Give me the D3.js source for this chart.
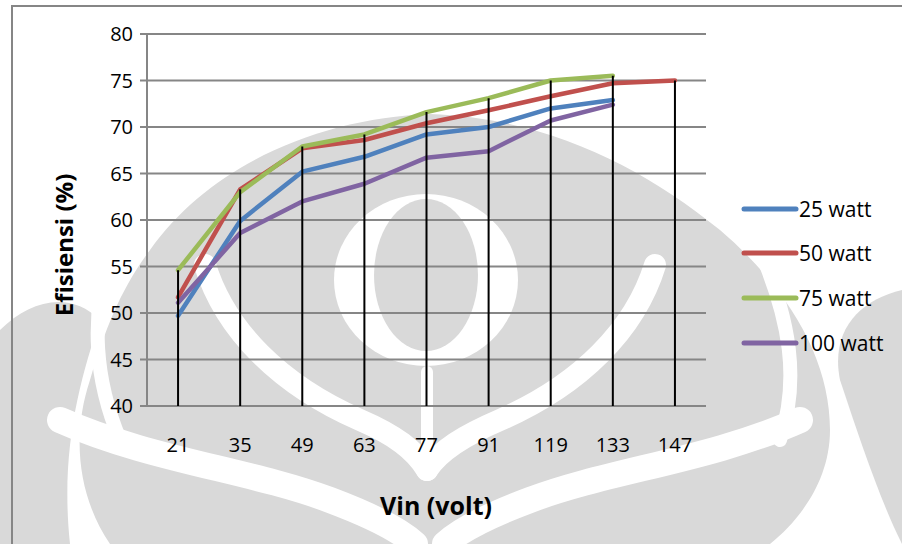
<!DOCTYPE html>
<html>
<head>
<meta charset="utf-8">
<script src="https://cdn.jsdelivr.net/npm/d3@7"></script>
<style>
  html, body { margin: 0; padding: 0; background: #fff; }
  svg { display: block; }
  text { font-family: "Open Sans", "Noto Sans", sans-serif; fill: #000; }
</style>
</head>
<body>
<svg id="chart" width="902" height="544"></svg>
<script>
// Input voltage categories (volt) and efficiency per load (%)
const categories = ["21", "35", "49", "63", "77", "91", "119", "133", "147"];
const seriesNames = ["25 watt", "50 watt", "75 watt", "100 watt"];
const seriesColors = ["#4F81BD", "#C0504D", "#9BBB59", "#8064A2"];
const watt25  = [49.7, 59.9, 65.2, 66.8, 69.2, 70.0, 72.0, 72.9, null];
const watt50  = [51.7, 63.3, 67.7, 68.6, 70.4, 71.8, 73.3, 74.7, 75.0];
const watt75  = [54.6, 63.0, 67.9, 69.2, 71.6, 73.1, 75.0, 75.5, null];
const watt100 = [51.1, 58.6, 62.0, 63.9, 66.7, 67.4, 70.7, 72.4, null];
const yTicks = [40, 45, 50, 55, 60, 65, 70, 75, 80];

const seriesValues = [watt25, watt50, watt75, watt100];
const series = seriesNames.map((name, i) => ({
  name, color: seriesColors[i],
  points: categories.map((c, j) => ({ cat: c, v: seriesValues[i][j] }))
}));

const svg = d3.select("#chart");
const W = 902, H = 544;
const plot = { left: 147, right: 706, top: 34, bottom: 406 };

const x = d3.scaleBand().domain(categories).range([plot.left, plot.right]).padding(0);
const y = d3.scaleLinear().domain([40, 80]).range([plot.bottom, plot.top]);
const cx = c => x(c) + x.bandwidth() / 2;

// Background emblem in light grey behind the plot
const wm = svg.append("g").attr("class", "emblem");
const G = "#d9d9d9";
wm.append("path").attr("fill", G).attr("d",
  "M150,250 C210,165 320,118 430,114 C545,118 640,165 720,230 C790,290 830,360 830,430 " +
  "C830,480 800,520 770,544 L110,544 C80,500 70,440 90,380 C105,330 120,290 150,250 Z");
wm.append("path").attr("fill", G).attr("d",
  "M0,330 C30,300 70,290 100,320 C80,380 60,450 70,544 L0,544 Z");
wm.append("path").attr("fill", G).attr("d",
  "M902,290 C860,300 830,330 840,380 C860,440 880,500 902,544 Z");
// white crescents of the central ring
wm.append("ellipse").attr("fill", "#fff").attr("cx", 426).attr("cy", 280).attr("rx", 92).attr("ry", 86);
wm.append("ellipse").attr("fill", G).attr("cx", 426).attr("cy", 275).attr("rx", 52).attr("ry", 76);
// white sweeping bands
const band = (d, w) => wm.append("path").attr("d", d).attr("fill", "none")
  .attr("stroke", "#fff").attr("stroke-width", w).attr("stroke-linecap", "round");
band("M205,265 C225,330 280,385 360,420 C395,435 415,450 427,470", 22);
band("M655,265 C635,330 580,385 500,420 C465,435 440,450 427,470", 22);
band("M427,372 L427,470", 12);
band("M60,420 C150,460 250,470 330,500 C370,515 400,530 415,544", 26);
band("M800,420 C710,460 610,470 530,500 C490,515 460,530 445,544", 26);
band("M110,250 C90,320 95,380 120,440", 14);
band("M760,250 C790,320 800,380 780,440", 14);

// Outer frame
svg.append("path").attr("d", `M12,${H} L12,6 L${W},6`)
  .attr("fill", "none").attr("stroke", "#868686").attr("stroke-width", 2);

// Horizontal gridlines and y ticks
const gy = svg.append("g");
gy.selectAll("line.grid").data(yTicks).join("line")
  .attr("x1", plot.left - 7).attr("x2", plot.right)
  .attr("y1", d => y(d)).attr("y2", d => y(d))
  .attr("stroke", "#868686").attr("stroke-width", 2);
gy.append("line").attr("x1", plot.left).attr("x2", plot.left)
  .attr("y1", plot.top).attr("y2", plot.bottom)
  .attr("stroke", "#868686").attr("stroke-width", 2);
gy.selectAll("text").data(yTicks).join("text")
  .attr("x", 133).attr("y", d => y(d)).attr("dy", "0.36em")
  .attr("text-anchor", "end").attr("font-size", 20).text(d => d);

// Category labels
svg.append("g").selectAll("text").data(categories).join("text")
  .attr("x", d => cx(d)).attr("y", 452)
  .attr("text-anchor", "middle").attr("font-size", 20).text(d => d);

// Series lines
const line = d3.line().defined(d => d.v != null).x(d => cx(d.cat)).y(d => y(d.v));
svg.append("g").selectAll("path").data(series).join("path")
  .attr("d", d => line(d.points)).attr("fill", "none")
  .attr("stroke", d => d.color).attr("stroke-width", 4.5)
  .attr("stroke-linejoin", "round").attr("stroke-linecap", "round");

// Drop lines from highest point to axis
const tops = categories.map((c, j) => d3.max(seriesValues, s => s[j]));
svg.append("g").selectAll("line").data(categories).join("line")
  .attr("x1", d => cx(d)).attr("x2", d => cx(d))
  .attr("y1", (d, j) => y(tops[j])).attr("y2", plot.bottom)
  .attr("stroke", "#000").attr("stroke-width", 2);

// Axis titles
svg.append("text").attr("transform", `translate(73,245) rotate(-90)`)
  .attr("text-anchor", "middle").attr("font-size", 24).attr("font-weight", "bold")
  .text("Efisiensi (%)");
svg.append("text").attr("x", 436).attr("y", 515)
  .attr("text-anchor", "middle").attr("font-size", 25).attr("font-weight", "bold")
  .text("Vin (volt)");

// Legend
const legY = [209, 253, 298, 343];
const leg = svg.append("g").selectAll("g").data(series).join("g")
  .attr("transform", (d, i) => `translate(744,${legY[i]})`);
leg.append("line").attr("x1", 0).attr("x2", 52)
  .attr("stroke", d => d.color).attr("stroke-width", 5).attr("stroke-linecap", "round");
leg.append("text").attr("x", 55).attr("dy", "0.36em").attr("font-size", 21)
  .text(d => d.name);
</script>
</body>
</html>
